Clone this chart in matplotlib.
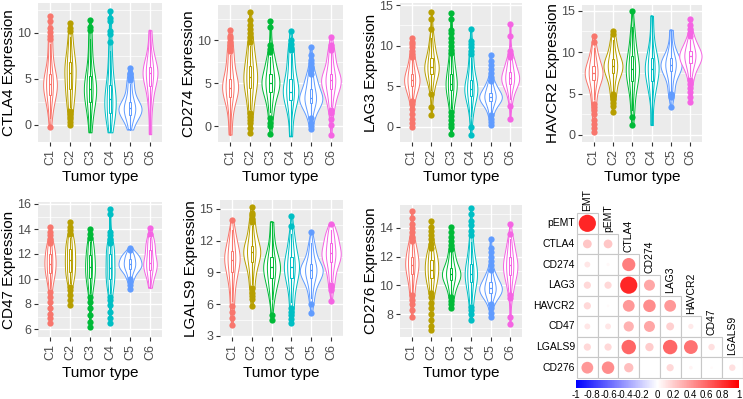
import numpy as np
import matplotlib
matplotlib.use("Agg")
import matplotlib.pyplot as plt
from matplotlib import cbook, mlab
from matplotlib.colors import LinearSegmentedColormap, Normalize
from matplotlib.cm import ScalarMappable

plt.rcParams['font.family'] = ['Liberation Sans', 'DejaVu Sans']

groups = ["C1", "C2", "C3", "C4", "C5", "C6"]
hue = ["#F8766D", "#B79F00", "#00BA38", "#00BFC4", "#619CFF", "#F564E3"]
genes = ["CTLA4", "CD274", "LAG3", "HAVCR2", "CD47", "LGALS9", "CD276"]

# bulk of each group (whisker low ... q1 ... median ... q3 ... whisker high) and outliers
ctla4_core = [
    [0.8, 2.2, 3.0, 3.3, 3.8, 4.2, 4.5, 4.8, 5.2, 5.5, 6.3, 7.4, 8.8],
    [2.0, 3.0, 3.5, 3.9, 4.6, 5.2, 5.7, 6.2, 6.5, 6.9, 7.6, 8.5, 9.6],
    [-0.8, 1.0, 1.9, 2.5, 3.2, 3.6, 3.9, 4.3, 4.8, 5.3, 6.3, 7.5, 9.3],
    [-0.8, 0.4, 0.9, 1.3, 2.0, 2.4, 2.8, 3.2, 3.7, 4.3, 5.3, 6.6, 8.0],
    [-0.5, 0.4, 0.8, 1.1, 1.4, 1.6, 1.8, 2.0, 2.2, 2.5, 3.0, 3.7, 4.5],
    [-1.0, 1.8, 3.2, 4.2, 4.9, 5.3, 5.6, 5.9, 6.1, 6.3, 7.2, 8.3, 10.3],
]
ctla4_out = [
    [-0.2, 9.3, 9.7, 10.1, 10.5, 11.3, 11.9],
    [0.0, 0.3, 0.6, 0.9, 1.2, 1.5, 10.2, 10.5, 11.1],
    [10.3, 10.6, 11.4],
    [9.0, 9.9, 10.2, 11.3, 11.6, 12.4],
    [4.9, 5.2, 5.5, 5.7, 6.2],
    [],
]
cd274_core = [
    [-1.0, 1.2, 2.5, 3.4, 3.9, 4.2, 4.4, 4.7, 5.1, 5.5, 6.3, 7.3, 8.3],
    [2.0, 3.2, 3.9, 4.4, 5.0, 5.4, 5.7, 6.0, 6.5, 7.0, 7.8, 8.5, 9.3],
    [1.6, 2.8, 3.5, 4.0, 4.5, 4.8, 5.0, 5.3, 5.6, 6.0, 6.7, 7.3, 8.0],
    [-1.2, 1.0, 2.2, 3.0, 3.5, 3.8, 4.0, 4.4, 4.9, 5.5, 6.3, 7.3, 8.4],
    [1.3, 2.0, 2.4, 2.7, 3.0, 3.2, 3.3, 3.5, 3.9, 4.3, 4.8, 5.3, 5.8],
    [2.3, 3.3, 3.9, 4.3, 4.8, 5.1, 5.3, 5.5, 5.8, 6.1, 6.8, 7.6, 8.5],
]
cd274_out = [
    [8.7, 9.0, 9.4, 9.8, 10.2, 10.5, 11.2],
    [-0.8, -0.2, 0.3, 0.7, 1.1, 1.5, 9.8, 10.3, 10.8, 11.3, 11.8, 12.3, 13.2],
    [-0.9, 0.0, 0.4, 0.9, 8.6, 9.0, 9.4, 11.5, 12.2],
    [8.8, 9.1, 9.5, 10.0, 11.0],
    [-0.4, 0.0, 0.4, 0.9, 6.1, 6.5, 6.9, 7.3, 7.7, 8.2, 9.2],
    [-1.0, 0.1, 0.8, 1.5, 1.9, 8.8, 9.1, 9.4, 10.4],
]
lag3_core = [
    [3.5, 4.3, 4.7, 5.0, 5.4, 5.6, 5.8, 6.0, 6.3, 6.5, 7.0, 7.6, 8.3],
    [4.5, 5.6, 6.1, 6.5, 6.9, 7.2, 7.4, 7.7, 8.1, 8.5, 9.2, 10.0, 11.0],
    [2.3, 3.4, 4.0, 4.5, 4.9, 5.1, 5.3, 5.6, 6.0, 6.5, 7.2, 8.0, 8.7],
    [1.3, 2.6, 3.3, 3.8, 4.2, 4.5, 4.7, 5.0, 5.4, 5.8, 6.5, 7.4, 8.5],
    [1.9, 2.6, 3.0, 3.2, 3.4, 3.6, 3.7, 3.8, 4.0, 4.2, 4.6, 5.0, 5.4],
    [3.4, 4.4, 4.9, 5.3, 5.6, 5.8, 6.0, 6.2, 6.5, 6.8, 7.3, 7.8, 8.3],
]
lag3_out = [
    [0.0, 0.5, 1.0, 1.6, 2.2, 2.8, 3.2, 8.6, 9.0, 9.4, 9.8, 10.2, 10.5, 11.0],
    [1.5, 2.5, 4.0, 12.1, 13.3, 14.2],
    [-0.9, 0.0, 0.4, 0.8, 1.3, 1.8, 9.1, 9.5, 10.0, 10.5, 11.0, 11.5, 11.9, 13.3, 14.0],
    [-1.0, 0.0, 9.0, 9.4, 9.8, 10.2, 10.6, 12.0],
    [0.3, 0.6, 1.0, 1.5, 5.7, 6.2, 6.6, 7.1, 7.6, 8.1, 8.9],
    [1.0, 2.6, 8.6, 9.0, 9.4, 11.2, 12.7],
]
havcr2_core = [
    [4.3, 5.6, 6.3, 6.7, 7.1, 7.3, 7.5, 7.7, 8.0, 8.3, 8.9, 9.6, 10.5],
    [5.3, 6.4, 7.0, 7.5, 7.9, 8.1, 8.3, 8.6, 8.9, 9.2, 9.8, 10.6, 11.5],
    [3.0, 4.8, 5.8, 6.5, 7.2, 7.6, 8.0, 8.4, 8.9, 9.5, 10.5, 11.5, 13.0],
    [1.2, 4.5, 5.6, 6.5, 7.2, 7.7, 8.0, 8.4, 8.8, 9.3, 10.3, 11.8, 14.4],
    [5.3, 6.6, 7.2, 7.7, 8.1, 8.3, 8.5, 8.7, 9.0, 9.3, 10.0, 10.9, 12.7],
    [7.1, 8.0, 8.4, 8.7, 9.1, 9.3, 9.5, 9.7, 9.9, 10.1, 10.5, 11.0, 11.5],
]
havcr2_out = [
    [0.4, 0.8, 1.3, 1.8, 2.5, 3.0, 3.4, 3.8, 11.2, 12.0],
    [2.8, 3.5, 3.9, 4.3, 4.7, 5.0, 12.2, 12.6],
    [1.2, 2.2, 15.0],
    [],
    [3.4, 4.6, 4.8, 5.0],
    [4.0, 4.6, 5.2, 5.7, 6.2, 6.7, 11.9, 12.3, 12.8, 13.3, 14.0],
]
cd47_core = [
    [9.3, 10.0, 10.3, 10.5, 10.8, 11.0, 11.2, 11.4, 11.7, 12.0, 12.2, 12.5, 12.7],
    [9.7, 10.2, 10.4, 10.6, 11.0, 11.3, 11.5, 11.8, 12.1, 12.4, 12.7, 13.0, 13.3],
    [8.9, 9.6, 9.9, 10.1, 10.5, 10.8, 11.0, 11.3, 11.6, 11.9, 12.3, 12.7, 13.0],
    [8.9, 9.5, 9.8, 10.0, 10.3, 10.6, 10.9, 11.2, 11.6, 12.0, 12.3, 12.5, 12.7],
    [10.1, 10.5, 10.7, 10.8, 11.0, 11.1, 11.2, 11.3, 11.5, 11.6, 11.8, 11.9, 12.1],
    [9.3, 10.1, 10.4, 10.7, 11.0, 11.2, 11.3, 11.5, 11.9, 12.3, 12.6, 12.9, 13.3],
]
cd47_out = [
    [6.5, 6.9, 7.2, 7.7, 8.2, 8.6, 9.0, 12.9, 13.2, 13.5, 13.8, 14.2],
    [7.9, 8.3, 8.7, 9.1, 9.4, 13.6, 13.9, 14.2, 14.6],
    [6.2, 6.6, 7.1, 7.7, 8.2, 8.6, 13.3, 13.6, 14.0],
    [6.5, 6.9, 7.4, 7.9, 8.3, 8.6, 12.9, 13.2, 13.5, 13.8, 15.2, 15.6],
    [9.2, 9.5, 9.8, 10.0, 12.3, 12.5],
    [13.6, 14.1],
]
lgals9_core = [
    [6.3, 7.7, 8.4, 9.0, 9.6, 9.9, 10.2, 10.5, 10.8, 11.0, 11.6, 12.3, 13.0],
    [7.9, 8.9, 9.5, 10.0, 10.4, 10.7, 10.9, 11.1, 11.3, 11.5, 12.0, 12.7, 13.4],
    [6.5, 7.5, 8.0, 8.5, 9.0, 9.3, 9.5, 9.8, 10.1, 10.5, 11.2, 12.2, 13.8],
    [6.2, 7.4, 8.0, 8.5, 9.0, 9.3, 9.5, 9.8, 10.1, 10.5, 11.1, 11.8, 12.6],
    [6.6, 7.6, 8.1, 8.5, 8.8, 9.0, 9.2, 9.4, 9.6, 9.8, 10.4, 11.0, 11.8],
    [8.2, 9.1, 9.6, 10.0, 10.4, 10.6, 10.8, 11.0, 11.4, 11.8, 12.2, 12.6, 13.0],
]
lgals9_out = [
    [4.0, 4.7, 5.3, 5.8, 14.0],
    [5.8, 6.5, 6.8, 7.1, 7.5, 13.8, 14.1, 14.4, 14.6, 15.2],
    [4.5, 5.0],
    [4.2, 4.6, 5.0, 5.3, 5.6, 13.4, 14.3],
    [5.2, 6.0, 12.8],
    [6.3, 7.3, 7.6, 7.8, 13.6],
]
cd276_core = [
    [9.4, 10.0, 10.5, 10.8, 11.1, 11.2, 11.4, 11.6, 11.8, 12.0, 12.3, 12.6, 12.9],
    [9.6, 10.1, 10.3, 10.5, 10.8, 11.0, 11.1, 11.3, 11.5, 11.8, 12.0, 12.2, 12.4],
    [9.4, 9.9, 10.2, 10.4, 10.6, 10.7, 10.8, 10.9, 11.0, 11.2, 11.5, 11.9, 12.3],
    [8.8, 9.5, 9.9, 10.2, 10.5, 10.7, 10.8, 11.0, 11.2, 11.5, 11.9, 12.4, 13.0],
    [8.9, 9.2, 9.4, 9.5, 9.6, 9.7, 9.8, 9.9, 10.0, 10.2, 10.4, 10.6, 10.9],
    [9.5, 10.2, 10.5, 10.7, 11.0, 11.2, 11.4, 11.6, 11.8, 12.0, 12.4, 12.8, 13.2],
]
cd276_out = [
    [7.8, 8.3, 8.7, 9.0, 9.3, 13.1, 13.4, 13.7, 14.0, 14.3, 14.7, 15.2],
    [6.9, 7.2, 7.6, 8.0, 8.4, 8.8, 9.2, 9.5, 12.6, 12.9, 13.2, 13.5, 13.8, 14.1, 14.5],
    [8.4, 8.7, 8.9, 9.2, 12.5, 12.8, 13.1, 13.4, 13.7, 14.1],
    [7.6, 8.0, 8.3, 8.5, 13.5, 13.8, 14.2, 14.5, 15.0, 15.4],
    [7.8, 8.1, 8.4, 8.7, 11.1, 11.4, 11.7, 12.0, 12.3, 12.6, 13.2],
    [7.3, 7.8, 9.1, 9.3, 13.6, 14.3],
]

cores = [ctla4_core, cd274_core, lag3_core, havcr2_core, cd47_core, lgals9_core, cd276_core]
outs = [ctla4_out, cd274_out, lag3_out, havcr2_out, cd47_out, lgals9_out, cd276_out]

yticks = [[0, 5, 10], [0, 5, 10], [0, 5, 10, 15], [0, 5, 10, 15],
          [6, 8, 10, 12, 14, 16], [3, 6, 9, 12, 15], [8, 10, 12, 14]]

# correlation matrix (lower triangle)
corr_rows = ["pEMT", "CTLA4", "CD274", "LAG3", "HAVCR2", "CD47", "LGALS9", "CD276"]
corr_cols = ["EMT", "pEMT", "CTLA4", "CD274", "LAG3", "HAVCR2", "CD47", "LGALS9"]
corr_vals = [
    [0.85],
    [0.22, 0.22],
    [0.1, 0.03, 0.5],
    [0.15, 0.15, 0.85, 0.35],
    [0.15, 0.02, 0.4, 0.45, 0.4],
    [0.1, 0.1, 0.3, 0.35, 0.18, 0.08],
    [0.15, 0.15, 0.6, 0.2, 0.6, 0.55, 0.12],
    [0.4, 0.45, 0.25, 0.0, 0.15, 0.04, 0.02, 0.12],
]

W, H = 743, 399
fig = plt.figure(figsize=(W / 100, H / 100), dpi=100)

# panel boxes in pixels: left, top, right, bottom
panel_px = [(38, 3, 162, 142), (218, 5, 343, 142), (400, 3, 522, 142), (582, 5, 702, 142),
            (38, 202, 162, 337), (220, 200, 343, 337), (400, 205, 522, 337)]
ylims = [(-1.85, 13.26), (-1.86, 14.07), (-1.85, 15.25), (-0.85, 15.7),
         (5.36, 16.16), (2.9, 15.85), (6.4, 15.6)]


def add_ax(l, t, r, b):
    return fig.add_axes([l / W, 1 - b / H, (r - l) / W, (b - t) / H])


def kde(x, coords):
    return mlab.GaussianKDE(x, 0.45).evaluate(coords)


pos = np.arange(1, 7)
for k, gene in enumerate(genes):
    ax = add_ax(*panel_px[k])
    ax.set_facecolor("#EBEBEB")
    core, out = cores[k], outs[k]
    data = [np.array(c * 4 + o) for c, o in zip(core, out)]
    stats = cbook.violin_stats(data, kde, points=200)
    peaks = [s['vals'].max() for s in stats]
    widths = [1.15 * p / max(peaks) for p in peaks]
    for scale in (1.0, 0.5):
        parts = ax.violin(stats, pos, widths=[w * scale for w in widths],
                          showmeans=False, showextrema=False, showmedians=False)
        for body, c in zip(parts['bodies'], hue):
            body.set_alpha(1)
            body.set_facecolor('white' if scale == 1.0 else 'none')
            body.set_edgecolor(c)
            body.set_linewidth(0.7)
            body.set_zorder(2)
    bp = ax.boxplot(core, positions=pos, widths=0.12, whis=(0, 100), showfliers=False,
                    showcaps=False, patch_artist=True, manage_ticks=False)
    for i, c in enumerate(hue):
        bp['boxes'][i].set(facecolor='white', edgecolor=c, linewidth=0.7, zorder=3)
        bp['medians'][i].set(color=c, linewidth=0.9, zorder=3)
        bp['whiskers'][2 * i].set(color=c, linewidth=0.8, zorder=3)
        bp['whiskers'][2 * i + 1].set(color=c, linewidth=0.8, zorder=3)
        ax.plot([pos[i]] * len(out[i]), out[i], 'o', color=c, ms=4.5, mec='none', zorder=4)

    ax.set_xlim(0.4, 6.6)
    ax.set_xticks(pos)
    ax.set_xticklabels(groups, rotation=90)
    yt = yticks[k]
    ax.set_yticks(yt)
    step = yt[1] - yt[0]
    ax.set_yticks([v + step / 2 for v in [yt[0] - step] + yt], minor=True)
    ax.set_ylim(*ylims[k])
    ax.set_axisbelow(True)
    ax.grid(which='major', color='white', linewidth=1.0)
    ax.grid(which='minor', axis='y', color='white', linewidth=0.5)
    for s in ax.spines.values():
        s.set_visible(False)
    ax.tick_params(which='major', length=3, width=0.8, color='#333333',
                   labelcolor='#4D4D4D', labelsize=9, pad=2)
    ax.tick_params(which='minor', length=0)
    ax.set_xlabel("Tumor type", fontsize=11, labelpad=4)
    ax.set_ylabel(gene + " Expression", fontsize=11, labelpad=1)

# correlation plot
cax = add_ax(577, 213, 742.6, 378)
cax.set_xlim(0, 8)
cax.set_ylim(8, 0)
cax.axis('off')
cmap = LinearSegmentedColormap.from_list("bwr_corr", ["#0000FF", "#FFFFFF", "#FF0000"])
cell_px = 165.6 / 8
for i, row in enumerate(corr_vals):
    for j, v in enumerate(row):
        cax.add_patch(plt.Rectangle((j, i), 1, 1, facecolor='white', edgecolor='#C8C8C8',
                                    linewidth=0.8, clip_on=False))
        d_pt = 0.9 * np.sqrt(abs(v)) * cell_px * 72 / 100
        cax.scatter([j + 0.5], [i + 0.5], s=d_pt ** 2, color=cmap((v + 1) / 2),
                    edgecolors='none', zorder=3, clip_on=False)
for i, name in enumerate(corr_rows):
    cax.text(-0.1, i + 0.5, name, ha='right', va='center', fontsize=7.5)
for j, name in enumerate(corr_cols):
    cax.text(j + 0.5, j - 0.1, name, ha='center', va='bottom', rotation=90, fontsize=7.5)

bax = add_ax(576, 380, 739, 388)
sm = ScalarMappable(norm=Normalize(-1, 1), cmap=cmap)
cb = fig.colorbar(sm, cax=bax, orientation='horizontal')
cb.outline.set_visible(False)
ticks = np.linspace(-1, 1, 11)
cb.set_ticks(ticks)
cb.set_ticklabels(["%g" % round(t, 1) for t in ticks])
bax.tick_params(length=0, labelsize=7, pad=1.5)

fig.savefig("out.png", dpi=100)
